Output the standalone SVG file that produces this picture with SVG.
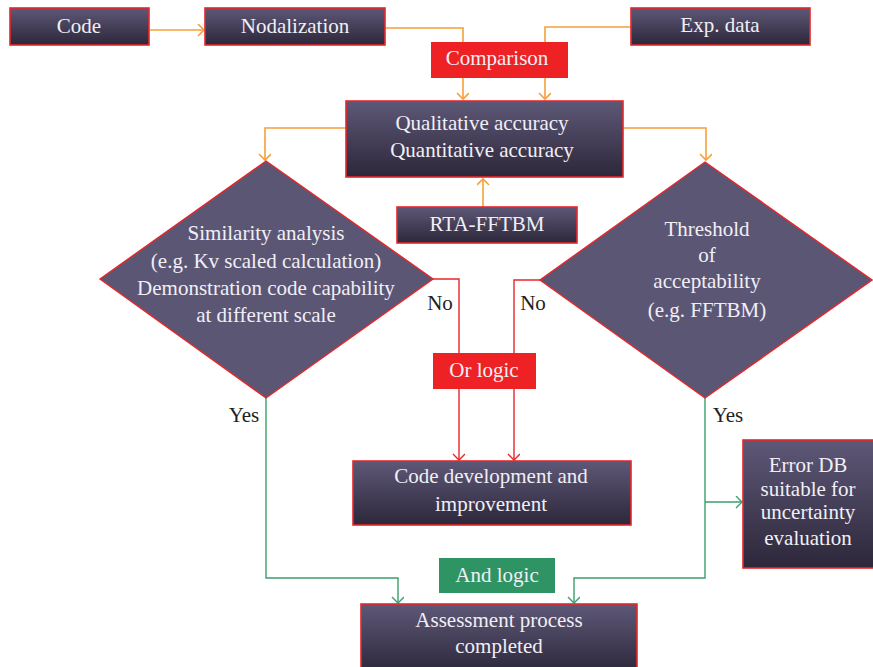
<svg xmlns="http://www.w3.org/2000/svg" width="873" height="667" viewBox="0 0 873 667">
<style>
.box{stroke:#e8262a;stroke-width:1.6;fill:url(#g)}
.dia{stroke:#e8262a;stroke-width:1.4;fill:#5c5675}
.lbl{fill:#ee2224}
.grn{fill:#2e9464}
text{font-family:"Liberation Serif","Times New Roman",serif;font-size:21px;text-anchor:middle}
.w{fill:#f1eff6}
.k{fill:#231f20}
.o{stroke:#f5a03a;stroke-width:1.6;fill:none}
.r{stroke:#e8262a;stroke-width:1.4;fill:none}
.gl{stroke:#38a06c;stroke-width:1.4;fill:none}
</style>
<defs>
<linearGradient id="g" x1="0" y1="0" x2="0" y2="1">
<stop offset="0" stop-color="#5e5878"/>
<stop offset="1" stop-color="#2c2739"/>
</linearGradient>
<marker id="ao" markerUnits="userSpaceOnUse" markerWidth="14" markerHeight="14" refX="9" refY="6" orient="auto"><path d="M3,0 L9,6 L3,12" fill="none" stroke="#f5a03a" stroke-width="1.6"/></marker>
<marker id="ar" markerUnits="userSpaceOnUse" markerWidth="14" markerHeight="14" refX="9" refY="6" orient="auto"><path d="M3,0 L9,6 L3,12" fill="none" stroke="#e8262a" stroke-width="1.4"/></marker>
<marker id="ag" markerUnits="userSpaceOnUse" markerWidth="14" markerHeight="14" refX="9" refY="6" orient="auto"><path d="M3,0 L9,6 L3,12" fill="none" stroke="#38a06c" stroke-width="1.4"/></marker>
</defs>
<g id="connectors">
<path class="o" d="M150,30 H204" marker-end="url(#ao)"/>
<path class="o" d="M385,28 H463 V99" marker-end="url(#ao)"/>
<path class="o" d="M631,27 H545 V99" marker-end="url(#ao)"/>
<path class="o" d="M483,207 V179" marker-end="url(#ao)"/>
<path class="o" d="M346,128 H265 V160" marker-end="url(#ao)"/>
<path class="o" d="M623,128 H706 V160" marker-end="url(#ao)"/>
<path class="r" d="M433,279 H459 V460" marker-end="url(#ar)"/>
<path class="r" d="M540,280 H514 V460" marker-end="url(#ar)"/>
<path class="gl" d="M266,398 V578 H398 V603" marker-end="url(#ag)"/>
<path class="gl" d="M705,398 V578 H574 V603" marker-end="url(#ag)"/>
<path class="gl" d="M705,502 H742" marker-end="url(#ag)"/>
</g>
<g id="code"><rect class="box" x="10" y="8" width="139" height="37"/><text class="w" x="79" y="33">Code</text></g>
<g id="nodalization"><rect class="box" x="205" y="8" width="180" height="37"/><text class="w" x="295" y="33">Nodalization</text></g>
<g id="expdata"><rect class="box" x="631" y="8" width="179" height="37"/><text class="w" x="720" y="32">Exp. data</text></g>
<g id="comparison"><rect class="lbl" x="431" y="42" width="137" height="36"/><text class="w" x="497" y="65">Comparison</text></g>
<g id="accuracy"><rect class="box" x="346" y="101" width="277" height="76"/><text class="w" x="482" y="130">Qualitative accuracy</text><text class="w" x="482" y="157">Quantitative accuracy</text></g>
<g id="rta"><rect class="box" x="397" y="207" width="180" height="36"/><text class="w" x="487" y="231">RTA-FFTBM</text></g>
<g id="similarity"><polygon class="dia" points="266,161 433,279 266,398 100,279"/>
<text class="w" x="266" y="240">Similarity analysis</text>
<text class="w" x="266" y="268">(e.g. Kv scaled calculation)</text>
<text class="w" x="266" y="295">Demonstration code capability</text>
<text class="w" x="266" y="322">at different scale</text></g>
<g id="threshold"><polygon class="dia" points="705,162 872,280 705,398 540,280"/>
<text class="w" x="707" y="236">Threshold</text>
<text class="w" x="707" y="262">of</text>
<text class="w" x="707" y="288">acceptability</text>
<text class="w" x="707" y="317">(e.g. FFTBM)</text></g>
<g id="nolabels"><text class="k" x="440" y="310">No</text><text class="k" x="533" y="310">No</text></g>
<g id="orlogic"><rect class="lbl" x="433" y="353" width="103" height="36"/><text class="w" x="484" y="377">Or logic</text></g>
<g id="codedev"><rect class="box" x="353" y="461" width="278" height="64"/><text class="w" x="491" y="483">Code development and</text><text class="w" x="491" y="511">improvement</text></g>
<g id="yeslabels"><text class="k" x="244" y="422">Yes</text><text class="k" x="728" y="422">Yes</text></g>
<g id="errordb"><rect class="box" x="743" y="440" width="131" height="128"/>
<text class="w" x="808" y="472">Error DB</text>
<text class="w" x="808" y="496">suitable for</text>
<text class="w" x="808" y="519">uncertainty</text>
<text class="w" x="808" y="545">evaluation</text></g>
<g id="andlogic"><rect class="grn" x="439" y="558" width="116" height="35"/><text class="w" x="497" y="582">And logic</text></g>
<g id="assessment"><rect class="box" x="361" y="604" width="276" height="70"/><text class="w" x="499" y="627">Assessment process</text><text class="w" x="499" y="653">completed</text></g>
</svg>
